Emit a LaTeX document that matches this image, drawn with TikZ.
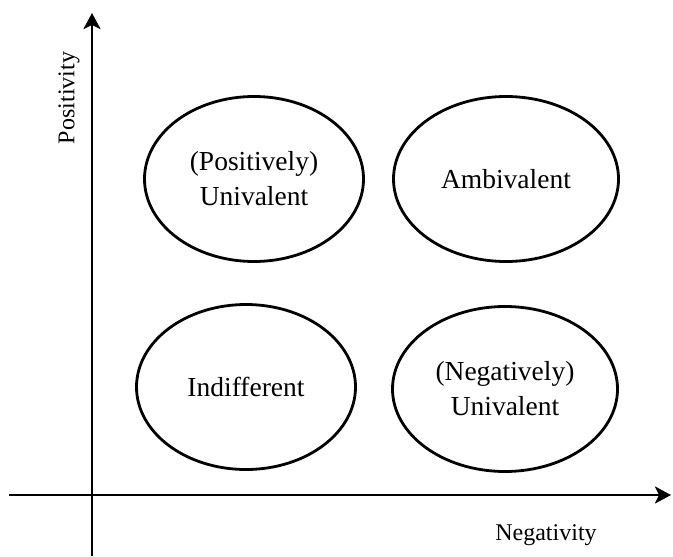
\documentclass[tikz,border=0pt]{standalone}
\usepackage{fontspec}
\setmainfont{Liberation Serif}
\usetikzlibrary{positioning, arrows.meta, shapes}

\begin{document}
\begin{tikzpicture}[x=0.5pt, y=-0.5pt,
    attitude/.style={draw, ellipse, line width=1.4pt, inner sep=0pt,
        minimum width=109.5pt, minimum height=82.5pt, align=center,
        font=\fontsize{13.75}{17.5}\selectfont},
    wide/.style={minimum width=112.5pt},
    axis/.style={line width=1.4pt, -{Stealth[length=8pt, width=8.5pt, inset=2pt]}},
    axislabel/.style={font=\fontsize{12}{14}\selectfont}
    ]
\useasboundingbox (0,0) rectangle (673,556);

% axes
\coordinate (ybot) at (92,556);
\coordinate (ytop) at (92,13);
\coordinate (xleft) at (9,495);
\coordinate (xright) at (671,495);
\draw[axis] (ybot) -- (ytop);
\draw[axis] (xleft) -- (xright);

\node[axislabel, rotate=90] (pos) at (69,98) {Positivity};
\node[axislabel] (neg) at (546,535) {Negativity};

% the four quadrants
\node[attitude] (posuni) at (254,179) {(Positively)\\Univalent};
\node[attitude, wide] (ambi) at (506,179) {Ambivalent};
\node[attitude] (indiff) at (246,387) {Indifferent};
\node[attitude, wide] (neguni) at (505,389) {(Negatively)\\Univalent};

\end{tikzpicture}
\end{document}
